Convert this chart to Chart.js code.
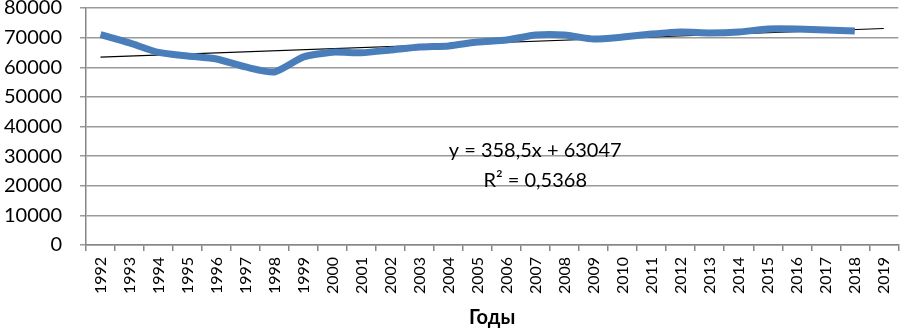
<!DOCTYPE html>
<html>
<head>
<meta charset="utf-8">
<script src="https://cdn.jsdelivr.net/npm/chart.js@4"></script>
<style>
  body { margin: 0; background: #fff; }
  #wrap { width: 909px; height: 330px; }
</style>
</head>
<body>
<div id="wrap"><canvas id="chart"></canvas></div>
<script>
const years = ['1992', '1993', '1994', '1995', '1996', '1997', '1998', '1999', '2000', '2001',
    '2002', '2003', '2004', '2005', '2006', '2007', '2008', '2009', '2010', '2011',
    '2012', '2013', '2014', '2015', '2016', '2017', '2018', '2019'];
const values = [71000, 68200, 65000, 63800, 62800, 60100, 58400, 63500, 65100, 64900,
    65800, 66800, 67200, 68500, 69200, 70900, 70900, 69500, 70200, 71200,
    71900, 71600, 71900, 72900, 72900, 72600, 72200, null];
// trend line end points (y = 358,5x + 63047 at x = 1 and x = 28)
const trendStart = 63406;
const trendEnd = 73085;
const trendValues = years.map((y, i) => i === 0 ? trendStart : (i === years.length - 1 ? trendEnd : null));
const equationLines = ['y = 358,5x + 63047', 'R² = 0,5368'];

const fontFamily = 'Lato, "Open Sans", sans-serif';

const equationPlugin = {
    id: 'equation',
    afterDatasetsDraw(chart) {
        const ctx = chart.ctx;
        const area = chart.chartArea;
        const cx = area.left + (area.right - area.left) * 0.553;
        ctx.save();
        ctx.fillStyle = '#000';
        ctx.font = '20px ' + fontFamily;
        ctx.textAlign = 'center';
        ctx.textBaseline = 'middle';
        ctx.fillText(equationLines[0], cx, chart.scales.y.getPixelForValue(32000));
        ctx.fillText(equationLines[1], cx, chart.scales.y.getPixelForValue(21800));
        ctx.restore();
    }
};

new Chart(document.getElementById('chart').getContext('2d'), {
    type: 'line',
    data: {
        labels: years,
        datasets: [{
            label: 'Значение',
            data: values,
            borderColor: '#4a7ebb',
            borderWidth: 7,
            pointRadius: 0,
            tension: 0.2,
            fill: false
        }, {
            label: 'Тренд',
            data: trendValues,
            borderColor: '#000',
            borderWidth: 1.2,
            pointRadius: 0,
            spanGaps: true,
            fill: false
        }]
    },
    options: {
        responsive: true,
        maintainAspectRatio: false,
        animation: false,
        layout: { padding: { top: 8, right: 0, left: 0, bottom: 0 } },
        plugins: {
            legend: { display: false },
            tooltip: { enabled: false }
        },
        scales: {
            x: {
                offset: true,
                afterFit: scale => { scale.height = 85; },
                grid: { offset: true, drawOnChartArea: false, color: '#868686', tickLength: 6, lineWidth: 1.5 },
                border: { color: '#868686', width: 1.5 },
                ticks: {
                    color: '#000',
                    minRotation: 90,
                    maxRotation: 90,
                    autoSkip: false,
                    padding: 6,
                    font: { family: fontFamily, size: 16 }
                },
                title: {
                    display: true,
                    text: 'Годы',
                    color: '#000',
                    padding: { top: 4, bottom: 0 },
                    font: { family: fontFamily, size: 20, weight: 'bold' }
                }
            },
            y: {
                min: 0,
                max: 80000,
                afterFit: scale => {
                    scale.width = 86;
                    scale.paddingTop = 0;
                    scale.paddingBottom = 0;
                },
                ticks: {
                    stepSize: 10000,
                    color: '#000',
                    padding: 18,
                    callback: v => String(v),
                    font: { family: fontFamily, size: 20 }
                },
                grid: { color: '#9a9a9a', lineWidth: 1.5, tickLength: 6 },
                border: { color: '#868686', width: 1.5 }
            }
        }
    },
    plugins: [equationPlugin]
});
</script>
</body>
</html>
